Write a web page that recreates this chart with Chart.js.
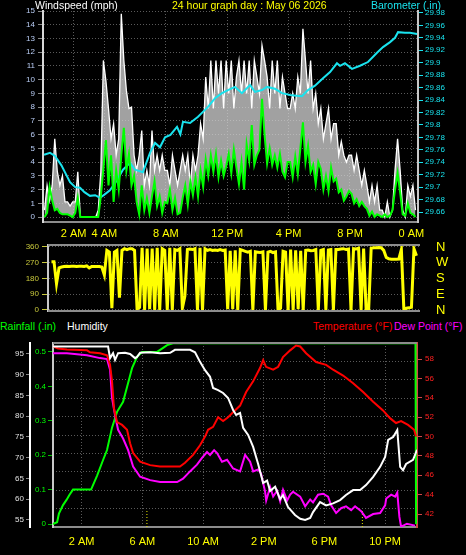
<!DOCTYPE html>
<html>
<head>
<meta charset="utf-8">
<script src="https://cdn.jsdelivr.net/npm/chart.js@4.4.1/dist/chart.umd.min.js"></script>
<style>
    body { margin: 0; background: #000; width: 466px; height: 555px; overflow: hidden; position: relative; font-family: 'Liberation Sans', Arial, sans-serif; }
    canvas { position: absolute; left: 0; }
    .t { position: absolute; font-size: 10.5px; line-height: 1; white-space: nowrap; z-index: 2; }
</style>
</head>
<body>
<div class="t" style="left:35px; top:0; color:#fff;">Windspeed (mph)</div>
<div class="t" style="left:172px; top:0; color:#ffff00;">24 hour graph day : May 06 2026</div>
<div class="t" style="left:371px; top:0; color:#19e3ee;">Barometer (.in)</div>
<div class="t" style="left:0; top:321px; color:#00ff00;">Rainfall (.in)</div>
<div class="t" style="left:67px; top:321px; color:#fff;">Humidity</div>
<div class="t" style="left:313px; top:321px; color:#ff0000;">Temperature (°F)</div>
<div class="t" style="left:394px; top:321px; color:#ff00ff;">Dew Point (°F)</div>

<canvas id="windChart" width="466" height="242" style="top:0"></canvas>
<canvas id="dirChart" width="466" height="78" style="top:242px"></canvas>
<canvas id="climateChart" width="466" height="220" style="top:335px"></canvas>

<script>
// wind samples, one every 10 minutes from 0:06
const windStart = 0.1;
const windGust = [
    0.5, 2.3, 1.2, 2.3, 5.7, 3.3,
    2.3, 3.0, 1.1, 1.1, 0.8, 1.1,
    1.1, 3.3, 0, 0, 0, 0,
    0, 0, 0, 0.5, 3.3, 11.4,
    9.9, 7.9, 5.7, 6.8, 4.5, 5.7,
    14.8, 11.4, 9.2, 7.9, 8.0, 4.5,
    3.4, 4.5, 6.3, 2.3, 3.4, 2.3,
    6.3, 3.4, 4.5, 3.4, 4.5, 3.4,
    3.4, 2.3, 4.5, 3.4, 2.3, 3.4,
    4.5, 3.4, 4.5, 2.3, 4.5, 3.4,
    4.5, 6.8, 5.7, 10.2, 7.9, 11.4,
    7.9, 11.4, 9.0, 11.4, 7.9, 11.4,
    9.0, 11.4, 7.9, 10.2, 11.4, 9.0,
    11.4, 9.0, 11.4, 7.9, 11.4, 10.2,
    9.0, 12.5, 11.4, 10.2, 7.9, 11.4,
    9.0, 11.4, 7.9, 10.2, 9.0, 7.9,
    7.9, 9.0, 7.9, 10.2, 9.0, 13.7,
    11.4, 9.0, 11.4, 7.9, 9.0, 6.8,
    7.9, 5.7, 6.8, 7.9, 5.7, 6.8,
    6.8, 4.5, 5.5, 4.5, 4.0, 4.5,
    4.5, 3.4, 4.5, 3.4, 2.3, 3.4,
    2.3, 1.1, 2.3, 1.1, 2.3, 0.5,
    0.5, 0.0, 1.1, 0.0, 0.5, 3.4,
    5.7, 3.4, 0.5, 0.0, 2.3, 1.5,
    2.3, 0.5
];
const windAvg = [
    0, 0.3, 2.2, 1.2, 0.5, 0.6,
    0.3, 0.2, 0.2, 0.2, 0.1, 0,
    0.3, 1.4, 0, 0, 0, 0,
    0, 0, 0, 0, 1.5, 3.5,
    5.6, 2.3, 4.5, 1.1, 3.4, 2.0,
    4.5, 6.5, 3.4, 4.6, 2.3, 3.0,
    1.1, 0.2, 2.3, 0.5, 1.4, 0.3,
    1.5, 2.6, 0.8, 1.5, 0.3, 1.1,
    1.0, 2.0, 0.5, 1.4, 0.2, 0.3,
    1.4, 2.3, 0.9, 2.6, 1.6, 2.9,
    1.5, 3.4, 2.2, 4.2, 3.0, 4.5,
    3.3, 4.6, 2.9, 4.1, 3.0, 3.7,
    4.6, 3.2, 4.9, 3.6, 2.4, 4.0,
    2.0, 5.3, 4.1, 6.7, 3.8, 4.5,
    4.9, 8.6, 6.0, 3.9, 5.0, 3.8,
    4.5, 3.6, 4.6, 3.3, 2.9, 4.0,
    4.0, 2.9, 4.4, 3.1, 5.0, 6.9,
    4.0, 5.2, 3.3, 3.8, 2.4, 4.0,
    3.5, 2.0, 3.0, 1.9, 3.6, 2.6,
    2.8, 1.8, 2.0, 1.2, 1.5, 1.9,
    1.7, 1.0, 1.3, 0.8, 1.1, 0.8,
    0.6, 0.1, 0.4, 0, 0.2, 0.1,
    0, 0.2, 0, 0.1, 0.5, 2.0,
    3.2, 1.8, 0.2, 0.1, 1.0, 0.3,
    0.2, 0
];
const windDir = [
    276, 276, 150, 240, 245, 248,
    250, 248, 250, 250, 248, 250,
    250, 248, 252, 240, 248, 248,
    248, 248, 245, 200, 340, 330,
    10, 330, 340, 70, 340, 350,
    345, 350, 350, 340, 5, 15,
    355, 0, 350, 5, 350, 0,
    355, 0, 350, 340, 0, 355,
    0, 345, 340, 350, 10, 80,
    345, 348, 345, 350, 0, 355,
    0, 350, 340, 345, 340, 342,
    340, 345, 340, 342, 5, 338,
    5, 340, 0, 345, 340, 335,
    330, 335, 0, 332, 330, 328,
    332, 0, 330, 335, 328, 332,
    0, 10, 335, 330, 0, 345,
    0, 340, 5, 338, 0, 340,
    342, 338, 340, 345, 0, 340,
    345, 0, 342, 345, 0, 345,
    345, 348, 350, 345, 348, 0,
    350, 348, 352, 0, 350, 0,
    0, 352, 355, 355, 356, 355,
    340, 300, 292, 290, 290, 290,
    291, 345, 0, 10, 12, 15,
    350, 310
];

const baroHours = [0.07, 0.46, 0.78, 1.2, 1.76, 2.1, 2.41, 2.7, 3.06, 3.4, 3.71, 4.0, 4.36, 4.82, 5.21, 5.67, 5.99, 6.51, 6.97, 7.3, 7.62, 7.95, 8.3, 8.73, 8.95, 9.12, 9.58, 10.1, 10.42, 10.75, 11.21, 11.66, 12.05, 12.51, 12.96, 13.49, 13.81, 14.27, 14.59, 15.11, 15.57, 16.09, 16.5, 16.87, 17.26, 17.72, 18.24, 18.7, 19.15, 19.35, 19.67, 20.13, 20.65, 21.17, 21.76, 22.15, 22.61, 22.93, 23.13, 23.58, 23.91, 24.37];
const baroValues = [29.752, 29.755, 29.750, 29.735, 29.708, 29.700, 29.699, 29.692, 29.686, 29.687, 29.683, 29.688, 29.695, 29.711, 29.728, 29.739, 29.728, 29.724, 29.755, 29.771, 29.764, 29.780, 29.784, 29.797, 29.785, 29.805, 29.803, 29.813, 29.821, 29.829, 29.843, 29.851, 29.856, 29.861, 29.851, 29.864, 29.853, 29.856, 29.861, 29.858, 29.851, 29.848, 29.847, 29.846, 29.856, 29.863, 29.875, 29.885, 29.899, 29.895, 29.899, 29.890, 29.895, 29.901, 29.916, 29.925, 29.933, 29.940, 29.949, 29.948, 29.948, 29.946];

const rainHours = [0.11, 0.38, 0.5, 0.77, 1.0, 1.2, 1.43, 2.62, 3.01, 3.41, 3.67, 4.0, 4.33, 4.73, 4.99, 5.32, 5.65, 5.98, 6.97, 7.37, 7.63, 8.02, 24.0, 24.04];
const rainValues = [0, 0.005, 0.03, 0.055, 0.07, 0.085, 0.1, 0.1, 0.14, 0.186, 0.215, 0.28, 0.326, 0.355, 0.398, 0.453, 0.486, 0.5, 0.5, 0.512, 0.52, 0.525, 0.525, 0];

const humHours = [0.11, 3.74, 3.87, 4.07, 4.2, 4.4, 4.86, 5.19, 5.52, 5.65, 5.85, 6.5, 7.17, 7.83, 8.15, 9.14, 9.47, 9.8, 10.13, 10.46, 10.66, 10.99, 11.32, 11.65, 11.98, 12.18, 12.44, 12.64, 12.97, 13.3, 13.63, 13.96, 14.22, 14.42, 14.75, 15.08, 15.27, 15.6, 16.06, 16.4, 16.73, 17.06, 17.25, 17.71, 18.11, 18.57, 19.03, 19.42, 19.89, 20.35, 20.74, 21.21, 21.67, 22.0, 22.2, 22.53, 22.8, 22.99, 23.18, 23.38, 23.84, 24.1];
const humValues = [96.8, 96.8, 94.0, 95.2, 93.6, 95.2, 95.3, 95.0, 94.0, 94.3, 95.3, 95.4, 95.2, 95.3, 96.0, 96.0, 95.4, 93.1, 91.1, 89.5, 86.8, 86.3, 85.6, 84.4, 81.5, 80.3, 80.8, 77.2, 75.5, 72.6, 68.5, 63.9, 64.5, 62.0, 63.0, 60.0, 61.0, 58.1, 56.2, 55.3, 55.0, 55.5, 56.9, 59.3, 58.5, 59.0, 59.8, 61.0, 62.2, 62.2, 63.4, 65.4, 67.8, 70.2, 74.3, 75.0, 76.7, 67.8, 67.0, 68.5, 69.5, 71.9];

const tempHours = [0.11, 0.44, 1.03, 2.35, 2.55, 3.21, 3.67, 3.87, 4.0, 4.13, 4.33, 4.66, 4.99, 5.19, 5.39, 5.85, 6.51, 7.16, 8.48, 8.81, 9.34, 9.8, 10.13, 10.33, 10.66, 10.99, 11.32, 11.65, 11.98, 12.44, 12.84, 13.3, 13.76, 13.96, 14.15, 14.62, 14.95, 15.27, 15.74, 16.13, 16.4, 16.79, 17.45, 18.11, 18.57, 19.23, 19.89, 20.55, 21.21, 21.86, 22.32, 22.72, 23.05, 23.51, 23.91, 24.04];
const tempValues = [59.3, 59.1, 59.0, 58.9, 58.7, 58.6, 58.4, 57.4, 55.7, 52.9, 51.5, 51.2, 50.7, 49.3, 48.3, 47.4, 47.05, 46.9, 46.9, 47.3, 48.1, 49.1, 50.0, 50.7, 51.0, 52.0, 51.6, 52.0, 52.5, 53.2, 54.6, 55.7, 57.1, 57.9, 57.2, 56.9, 57.2, 58.2, 58.9, 59.4, 59.3, 58.6, 57.7, 57.4, 56.9, 56.3, 55.5, 54.6, 53.6, 52.7, 51.9, 51.4, 51.6, 51.2, 50.7, 50.0];

const dewHours = [0.11, 1.03, 2.35, 3.21, 3.67, 3.87, 4.0, 4.2, 4.4, 4.73, 5.06, 5.39, 5.85, 6.51, 7.17, 8.29, 8.68, 9.14, 9.6, 9.93, 10.26, 10.46, 10.73, 10.92, 11.25, 11.58, 11.98, 12.44, 12.77, 13.1, 13.3, 13.63, 13.82, 14.09, 14.16, 14.42, 14.62, 14.88, 15.08, 15.27, 15.54, 15.74, 15.93, 16.4, 16.73, 17.06, 17.25, 17.58, 17.91, 18.24, 18.44, 18.77, 19.1, 19.42, 19.76, 20.02, 20.42, 20.74, 21.21, 21.67, 22.0, 22.07, 22.4, 22.66, 22.8, 22.94, 23.05, 23.44, 23.97];
const dewValues = [58.6, 58.6, 58.4, 58.1, 58.0, 56.9, 54.0, 52.2, 50.7, 49.8, 48.6, 46.9, 45.85, 45.5, 45.3, 45.3, 45.65, 46.4, 47.1, 47.8, 48.4, 48.1, 48.6, 48.3, 47.4, 47.6, 46.7, 46.4, 48.1, 47.4, 46.4, 46.6, 46.2, 44.3, 43.4, 44.8, 43.8, 44.4, 43.3, 44.5, 43.4, 44.0, 44.3, 43.8, 42.8, 43.5, 43.2, 44.0, 44.1, 43.8, 42.9, 42.1, 42.6, 42.8, 42.4, 42.8, 42.3, 41.6, 42.0, 42.1, 42.9, 43.6, 44.0, 43.8, 44.2, 41.7, 40.7, 41.0, 40.8];

// sunrise / sunset markers
const sunHours = [6.3, 20.5];

// tick labels
const windTicks = [0, 1, 2, 3, 4, 5, 6, 7, 8, 9, 10, 11, 12, 13, 14, 15];
const baroTicks = [29.66, 29.68, 29.7, 29.72, 29.74, 29.76, 29.78, 29.8, 29.82, 29.84, 29.86, 29.88, 29.9, 29.92, 29.94, 29.96, 29.98];
const topHourTicks = [2, 4, 8, 12, 16, 20, 24];
const topHourLabels = ['2 AM', '4 AM', '8 AM', '12 PM', '4 PM', '8 PM', '0 AM'];
const dirTicks = [0, 90, 180, 270, 360];
const compassLabels = ['N', 'E', 'S', 'W', 'N'];
const humTicks = [55, 60, 65, 70, 75, 80, 85, 90, 95];
const rainTicks = [0, 0.1, 0.2, 0.3, 0.4, 0.5];
const tempTicks = [42, 44, 46, 48, 50, 52, 54, 56, 58];
const bottomHourTicks = [2, 6, 10, 14, 18, 22];
const bottomHourLabels = ['2 AM', '6 AM', '10 AM', '2 PM', '6 PM', '10 PM'];

Chart.defaults.font.family = "'Liberation Sans', Arial, sans-serif";

const gridColor = '#5a5a5a';
const dots = [1, 2];

const fixedTicks = (list) => (scale) => { scale.ticks = list.map(v => ({ value: v })); };
const labelFrom = (list, labels) => (v) => { const i = list.indexOf(v); return i < 0 ? '' : labels[i]; };
const byIndex = (values, start) => values.map((v, i) => ({ x: start + i / 6, y: v }));
const pairs = (hours, values) => hours.map((h, i) => ({ x: h, y: values[i] }));
// fixed axis width, and no extra room asked for the end labels
const sideWidth = (w) => (s) => { s.width = w; s.paddingTop = 0; s.paddingBottom = 0; };

// gray lines on the plot frame
const frameLines = {
    id: 'frameLines',
    afterDraw(chart, args, opts) {
        if (!opts.sides) return;
        const { ctx, chartArea: a } = chart;
        ctx.save();
        ctx.strokeStyle = opts.color;
        ctx.lineWidth = opts.width;
        ctx.beginPath();
        opts.sides.forEach(s => {
            if (s === 'top') { ctx.moveTo(a.left, a.top); ctx.lineTo(a.right, a.top); }
            if (s === 'bottom') { ctx.moveTo(a.left, a.bottom); ctx.lineTo(a.right, a.bottom); }
        });
        ctx.stroke();
        ctx.restore();
    }
};

const baseOptions = {
    responsive: false,
    animation: false,
    events: [],
    elements: { point: { radius: 0 }, line: { tension: 0 } },
};

const windChart = new Chart(document.getElementById('windChart'), {
    type: 'line',
    data: {
        datasets: [
            { label: 'Average', data: byIndex(windAvg, windStart), borderColor: '#00ff00', borderWidth: 2, yAxisID: 'wind', order: 0 },
            { label: 'Barometer', data: pairs(baroHours, baroValues), borderColor: '#19e3ee', borderWidth: 2, yAxisID: 'baro', order: 1 },
            { label: 'Gust', data: byIndex(windGust, windStart), borderColor: '#ffffff', borderWidth: 1.3, backgroundColor: 'rgba(215,215,215,0.75)', fill: 0, yAxisID: 'wind', order: 2 },
        ]
    },
    options: {
        ...baseOptions,
        layout: { padding: { top: 11 } },
        plugins: { legend: { display: false }, tooltip: { enabled: false } },
        scales: {
            x: {
                type: 'linear', min: 0, max: 24.43,
                afterBuildTicks: fixedTicks(topHourTicks),
                afterFit: s => { s.height = 20; },
                ticks: { color: '#ffff00', font: { size: 11 }, padding: 5, autoSkip: false, maxRotation: 0, callback: labelFrom(topHourTicks, topHourLabels) },
                grid: { color: gridColor, drawTicks: false },
                border: { color: '#8c8c8c', width: 2, dash: dots },
            },
            wind: {
                position: 'left', min: -0.36, max: 15,
                afterBuildTicks: fixedTicks(windTicks),
                afterFit: sideWidth(43),
                ticks: { color: '#b9cdf5', font: { size: 8 }, padding: 3, autoSkip: false },
                grid: { color: gridColor, tickColor: '#888', tickLength: 5 },
                border: { color: '#d8d8d8', width: 2, dash: dots },
            },
            baro: {
                position: 'right', min: 29.644, max: 29.983,
                afterBuildTicks: fixedTicks(baroTicks),
                afterFit: sideWidth(48),
                ticks: { color: '#19e3ee', font: { size: 8 }, padding: 2, autoSkip: false, callback: v => String(+v.toFixed(2)) },
                grid: { drawOnChartArea: false, tickColor: '#19e3ee', tickLength: 5 },
                border: { color: '#c8c8c8', width: 2 },
            }
        }
    }
});

const dirChart = new Chart(document.getElementById('dirChart'), {
    type: 'line',
    data: {
        datasets: [
            { label: 'Direction', data: byIndex(windDir, windStart), borderColor: '#ffff00', borderWidth: 3, yAxisID: 'dir' }
        ]
    },
    plugins: [frameLines],
    options: {
        ...baseOptions,
        layout: { padding: { top: 3, bottom: 9 } },
        plugins: { legend: { display: false }, tooltip: { enabled: false }, frameLines: { sides: ['top', 'bottom'], color: '#8c8c8c', width: 2 } },
        scales: {
            x: { type: 'linear', min: -0.13, max: 24.5, display: false },
            dir: {
                position: 'left', min: -6, max: 371,
                afterBuildTicks: fixedTicks(dirTicks),
                afterFit: sideWidth(48),
                ticks: { color: '#c8c83c', font: { size: 8 }, padding: 3, autoSkip: false },
                grid: { color: gridColor, tickColor: '#c8c83c', tickLength: 6 },
                border: { color: '#c8c8c8', width: 2, dash: dots },
            },
            compass: {
                position: 'right', min: -6, max: 371,
                afterBuildTicks: fixedTicks(dirTicks),
                afterFit: sideWidth(46),
                ticks: { color: '#ffff00', font: { size: 13 }, padding: 16, autoSkip: false, callback: labelFrom(dirTicks, compassLabels) },
                grid: { display: false, drawTicks: false },
                border: { display: false },
            }
        }
    }
});

const climateChart = new Chart(document.getElementById('climateChart'), {
    type: 'line',
    data: {
        datasets: [
            { label: 'Humidity', data: pairs(humHours, humValues), borderColor: '#ffffff', borderWidth: 2, yAxisID: 'hum' },
            { label: 'Temperature', data: pairs(tempHours, tempValues), borderColor: '#ff0000', borderWidth: 2, yAxisID: 'temp' },
            { label: 'Dew Point', data: pairs(dewHours, dewValues), borderColor: '#ff00ff', borderWidth: 2, yAxisID: 'temp' },
            { label: 'Rainfall', data: pairs(rainHours, rainValues), borderColor: '#00ff00', borderWidth: 2, yAxisID: 'rain', clip: 3 },
            ...sunHours.map(h => ({ label: 'sun', data: [{ x: h, y: 53.3 }, { x: h, y: 57.6 }], borderColor: '#e8e800', borderWidth: 1, borderDash: [1, 2], yAxisID: 'hum' })),
        ]
    },
    plugins: [frameLines],
    options: {
        ...baseOptions,
        layout: { padding: { top: 8 } },
        plugins: { legend: { display: false }, tooltip: { enabled: false }, frameLines: { sides: ['top'], color: '#8c8c8c', width: 2 } },
        scales: {
            x: {
                type: 'linear', min: 0.11, max: 24.1,
                afterBuildTicks: fixedTicks(bottomHourTicks),
                afterFit: s => { s.height = 28; },
                ticks: { color: '#ffff00', font: { size: 11 }, padding: 8, autoSkip: false, maxRotation: 0, callback: labelFrom(bottomHourTicks, bottomHourLabels) },
                grid: { color: gridColor, drawTicks: false },
                border: { color: '#8c8c8c', width: 2, dash: dots },
            },
            hum: {
                position: 'left', weight: 1, min: 53.3, max: 97.65,
                afterBuildTicks: fixedTicks(humTicks),
                afterFit: sideWidth(30),
                ticks: { color: '#e0e0e0', font: { size: 8 }, padding: 2, autoSkip: false },
                grid: { drawOnChartArea: false, tickColor: '#888', tickLength: 4 },
                border: { color: '#ffffff', width: 2 },
            },
            rain: {
                position: 'left', weight: 0, min: -0.0087, max: 0.526,
                afterBuildTicks: fixedTicks(rainTicks),
                afterFit: sideWidth(23),
                ticks: { color: '#00ff00', font: { size: 8 }, padding: 2, autoSkip: false },
                grid: { drawOnChartArea: false, tickColor: '#00c000', tickLength: 5 },
                border: { color: '#c8c8c8', width: 2 },
            },
            temp: {
                position: 'right', weight: 1, min: 40.66, max: 59.66,
                afterBuildTicks: fixedTicks(tempTicks),
                afterFit: sideWidth(49),
                ticks: { color: '#ff2020', font: { size: 8 }, padding: 3, autoSkip: false },
                grid: { drawOnChartArea: false, tickColor: '#d04848', tickLength: 5 },
                border: { color: '#d04848', width: 2 },
            },
            g: {
                position: 'right', weight: 0, min: 0, max: 10,
                afterFit: sideWidth(0),
                ticks: { display: false, stepSize: 1 },
                grid: { color: gridColor, drawTicks: false },
                border: { display: false, dash: dots },
            }
        }
    }
});
</script>
</body>
</html>
